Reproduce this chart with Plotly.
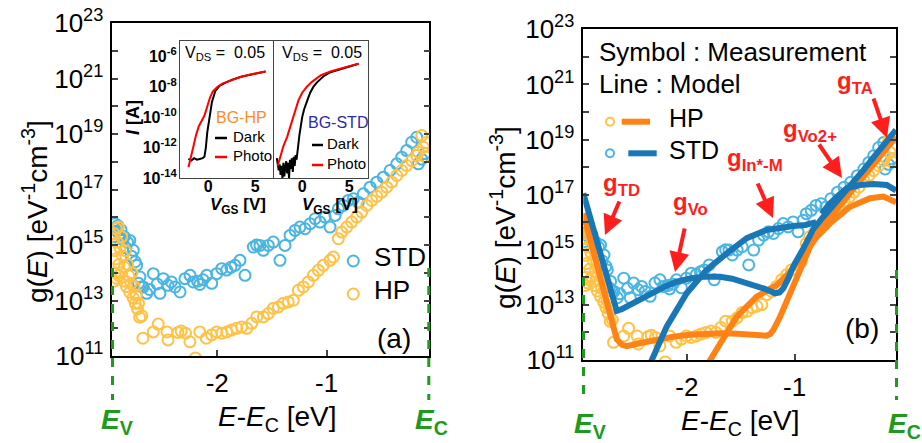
import plotly.graph_objects as go

W, H = 922, 443
FONT = "Liberation Sans, Arial, sans-serif"

# ---------------- measured DOS (log10 of g(E) [eV^-1 cm^-3]) ----------------
std_E = [-2.95, -2.94, -2.935, -2.92, -2.91, -2.895, -2.88, -2.865, -2.85, -2.835,
         -2.82, -2.80, -2.785, -2.768, -2.75, -2.737, -2.72, -2.707, -2.69, -2.676,
         -2.645, -2.62, -2.585, -2.55, -2.524, -2.493, -2.45, -2.42, -2.386, -2.34,
         -2.295, -2.249, -2.219, -2.18, -2.16, -2.13, -2.096, -2.05, -2.005, -1.959,
         -1.913, -1.875, -1.838, -1.792, -1.746, -1.67, -1.64, -1.609, -1.578, -1.533,
         -1.487, -1.426, -1.38, -1.334, -1.288, -1.243, -1.197, -1.151, -1.105, -1.06,
         -1.014, -0.968, -0.922, -0.892, -0.847, -0.801, -0.755, -0.71, -0.664, -0.602,
         -0.541, -0.48, -0.419, -0.358, -0.312, -0.267, -0.221, -0.175, -0.16, -0.13, -0.10]
std_logg = [15.3, 15.6, 15.77, 15.5, 15.7, 15.4, 15.55, 15.2, 15.3, 14.9,
            15.1, 15.17, 14.6, 14.81, 14.4, 14.27, 13.62, 13.85, 13.5, 13.49,
            13.26, 13.4, 13.97, 13.6, 13.26, 13.79, 13.55, 13.67, 13.49, 13.31,
            13.79, 13.91, 13.67, 13.7, 13.58, 13.75, 13.91, 13.62, 13.97, 14.15,
            14.1, 14.2, 14.27, 14.45, 13.91, 14.93, 15.0, 14.99, 14.81, 14.99,
            15.11, 14.45, 14.99, 15.35, 15.53, 15.65, 15.59, 15.77, 15.95, 15.83,
            16.01, 15.65, 16.07, 16.31, 16.43, 16.61, 16.67, 16.55, 16.85, 17.09,
            17.27, 17.45, 17.69, 17.93, 18.17, 18.41, 18.71, 18.89, 17.93, 18.1, 18.3]

hp_E = [-2.95, -2.945, -2.945, -2.94, -2.935, -2.93, -2.925, -2.92, -2.915, -2.905,
        -2.90, -2.90, -2.89, -2.88, -2.875, -2.865, -2.855, -2.85, -2.84, -2.83,
        -2.82, -2.81, -2.80, -2.79, -2.78, -2.77, -2.76, -2.75, -2.74, -2.73,
        -2.72, -2.71, -2.69, -2.68, -2.585, -2.54, -2.46, -2.45, -2.36, -2.33,
        -2.29, -2.25, -2.20, -2.16, -2.10, -2.051, -2.005, -1.959, -1.913, -1.868,
        -1.822, -1.776, -1.73, -1.685, -1.639, -1.578, -1.533, -1.487, -1.441, -1.396,
        -1.35, -1.304, -1.258, -1.213, -1.167, -1.121, -1.075, -1.03, -0.968, -0.938,
        -0.892, -0.861, -0.815, -0.77, -0.724, -0.678, -0.632, -0.587, -0.541, -0.495,
        -0.45, -0.404, -0.358, -0.312, -0.267, -0.221, -0.175, -0.16, -0.129, -0.114,
        -0.10, -0.09]
hp_logg = [15.2, 14.8, 13.7, 15.4, 14.0, 14.5, 15.6, 13.8, 15.1, 15.65,
           14.3, 13.9, 14.9, 14.0, 15.3, 14.6, 13.7, 14.2, 14.8, 13.5,
           14.3, 13.9, 13.3, 13.6, 14.0, 13.1, 13.5, 12.9, 13.2, 12.7,
           12.9, 12.4, 12.45, 11.64, 11.87, 12.15, 11.87, 11.58, 11.85, 11.9,
           11.82, 11.51, 10.93, 11.87, 11.64, 11.76, 11.87, 11.82, 11.87, 11.94,
           12.0, 12.05, 12.0, 12.18, 12.41, 12.41, 12.53, 12.72, 12.77, 12.9,
           12.95, 13.01, 13.37, 13.49, 13.67, 13.91, 14.09, 14.27, 14.45, 14.57,
           15.23, 15.47, 15.65, 15.83, 16.01, 16.19, 16.43, 16.61, 16.76, 16.91,
           17.09, 17.27, 17.51, 17.69, 17.87, 18.05, 18.23, 18.35, 18.95, 18.53,
           18.2, 18.7]

# ---------------- model lines, panel (b) ----------------
hp_tot_E = [-2.96, -2.80, -2.65, -2.60, -2.557, -2.45, -2.31, -2.15, -2.0, -1.85,
            -1.692, -1.53, -1.383, -1.30, -1.259, -1.225, -1.197, -1.135, -1.042, -0.95,
            -0.857, -0.764, -0.64, -0.517, -0.393, -0.27, -0.15, -0.06]
hp_tot_logg = [16.32, 13.95, 11.75, 11.55, 11.5, 11.6, 11.73, 11.83, 11.91, 11.95,
               11.97, 11.95, 11.91, 11.88, 11.88, 11.95, 12.09, 12.57, 13.42, 14.27,
               15.11, 15.72, 16.32, 16.93, 17.53, 18.14, 18.65, 19.1]
hp_vo2_E = [-1.83, -1.785, -1.662, -1.538, -1.352, -1.166, -1.042, -0.919, -0.795, -0.671,
            -0.486, -0.30, -0.177, -0.06]
hp_vo2_logg = [10.7, 11.0, 11.85, 12.57, 13.3, 13.72, 14.2, 14.87, 15.47, 15.96,
               16.56, 16.87, 16.93, 16.72]

std_tot_E = [-2.96, -2.80, -2.65, -2.60, -2.527, -2.41, -2.31, -2.20, -2.094, -1.97,
             -1.847, -1.75, -1.692, -1.58, -1.476, -1.38, -1.29, -1.23, -1.182, -1.14,
             -1.105, -1.06, -1.012, -0.919, -0.826, -0.733, -0.61, -0.486, -0.362, -0.238,
             -0.15, -0.06]
std_tot_logg = [17.05, 14.9, 12.78, 12.85, 13.0, 13.25, 13.48, 13.67, 13.84, 13.96,
                14.02, 14.05, 14.02, 13.95, 13.84, 13.72, 13.6, 13.5, 13.42, 13.45,
                13.6, 13.95, 14.4, 15.05, 15.75, 16.2, 16.74, 17.29, 17.89, 18.5,
                18.95, 19.35]
std_inm_E = [-2.37, -2.326, -2.187, -2.001, -1.816, -1.63, -1.444, -1.259, -1.10, -1.012,
             -0.90, -0.80]
std_inm_logg = [10.6, 11.0, 12.21, 13.42, 14.27, 14.87, 15.42, 15.72, 15.83, 15.86,
                15.9, 16.0]
std_vo2_E = [-0.75, -0.68, -0.60, -0.517, -0.393, -0.27, -0.146, -0.06]
std_vo2_logg = [16.3, 16.65, 16.95, 17.23, 17.35, 17.39, 17.35, 17.15]

# ---------------- inset transfer curves (log10 I [A]) ----------------
hp_dark_V = [-2.1, -1.8, -1.5, -1.2, -0.9, -0.6, -0.4, -0.25, -0.1, 0.05,
             0.2, 0.4, 0.75, 1.2, 1.8, 2.5, 3.5, 4.5, 5.5, 6.1]
hp_dark_logI = [-12.75, -12.85, -12.7, -12.8, -12.75, -12.7, -12.6, -12.0, -11.0, -10.3,
                -9.75, -9.0, -8.3, -7.95, -7.75, -7.55, -7.35, -7.2, -7.05, -7.0]
hp_photo_V = [-2.1, -1.9, -1.6, -1.3, -1.0, -0.7, -0.4, -0.1, 0.2, 0.5,
              1.0, 1.5, 2.5, 3.5, 4.5, 5.5, 6.1]
hp_photo_logI = [-13.3, -12.7, -12.0, -11.2, -10.6, -10.25, -9.9, -9.3, -8.7, -8.3,
                 -8.0, -7.8, -7.55, -7.35, -7.2, -7.05, -7.0]
std_dark_V = [-2.7, -2.6, -2.5, -2.4, -2.3, -2.2, -2.1, -2.0, -1.9, -1.8,
              -1.7, -1.6, -1.5, -1.4, -1.3, -1.2, -1.1, -1.0, -0.9, -0.8,
              -0.7, -0.6, -0.5, -0.4, -0.3, -0.2, -0.1, 0.0, 0.2, 0.4,
              0.6, 0.85, 1.2, 1.6, 2.3, 3.0, 4.0, 5.0, 6.0]
std_dark_logI = [-12.7, -13.0, -13.5, -13.1, -13.8, -13.2, -14.0, -13.0, -13.9, -13.3,
                 -12.9, -13.7, -13.0, -14.0, -12.8, -13.4, -12.7, -13.6, -12.6, -13.2,
                 -12.5, -12.8, -12.4, -11.75, -11.2, -10.7, -10.3, -10.0, -9.5, -9.1,
                 -8.8, -8.4, -8.0, -7.7, -7.3, -7.05, -6.85, -6.7, -6.5]
std_photo_V = [-2.6, -2.3, -2.0, -1.6, -1.2, -0.8, -0.4, 0.0, 0.5, 1.0,
               1.5, 2.0, 3.0, 4.0, 5.0, 6.0]
std_photo_logI = [-13.2, -12.5, -11.9, -11.3, -10.5, -9.6, -8.9, -8.4, -8.0, -7.7,
                  -7.45, -7.25, -7.0, -6.8, -6.65, -6.5]

# ---------------- tick labels ----------------
g_exps = list(range(11, 24))
g_ticktext = [f"10<sup>{k}</sup>" if k % 2 else "" for k in g_exps]
i_exps = [-6, -8, -10, -12, -14]
i_ticktext = [f"<b>10<sup>{k}</sup></b>" for k in i_exps]

# ---------------- colours ----------------
C_STD = "#4AB4E2"
C_HP = "#FFC246"
C_STD_LINE = "#1A77B6"
C_HP_LINE = "#FF8216"
C_RED = "#FF1E1E"
C_GREEN = "#1E9A1E"


def pw(v):
    return [10.0 ** x for x in v]


def fx(px):
    return px / W


def fy(py):
    return 1 - py / H


fig = go.Figure()

mk = lambda c, s=11: dict(symbol="circle-open", size=s, color=c, line=dict(width=2, color=c))

# panel (a)
fig.add_trace(go.Scatter(x=std_E, y=pw(std_logg), mode="markers", marker=mk(C_STD), xaxis="x", yaxis="y"))
fig.add_trace(go.Scatter(x=hp_E, y=pw(hp_logg), mode="markers", marker=mk(C_HP), xaxis="x", yaxis="y"))
# panel (b)
fig.add_trace(go.Scatter(x=std_E, y=pw(std_logg), mode="markers", marker=mk(C_STD), xaxis="x2", yaxis="y2"))
fig.add_trace(go.Scatter(x=hp_E, y=pw(hp_logg), mode="markers", marker=mk(C_HP), xaxis="x2", yaxis="y2"))
for xe, yl, c in [(hp_vo2_E, hp_vo2_logg, C_HP_LINE), (hp_tot_E, hp_tot_logg, C_HP_LINE),
                  (std_inm_E, std_inm_logg, C_STD_LINE), (std_vo2_E, std_vo2_logg, C_STD_LINE),
                  (std_tot_E, std_tot_logg, C_STD_LINE)]:
    fig.add_trace(go.Scatter(x=xe, y=pw(yl), mode="lines", line=dict(color=c, width=6),
                             xaxis="x2", yaxis="y2"))
# insets
fig.add_trace(go.Scatter(x=hp_dark_V, y=pw(hp_dark_logI), mode="lines", line=dict(color="black", width=2), xaxis="x3", yaxis="y3"))
fig.add_trace(go.Scatter(x=hp_photo_V, y=pw(hp_photo_logI), mode="lines", line=dict(color="red", width=2), xaxis="x3", yaxis="y3"))
fig.add_trace(go.Scatter(x=std_dark_V, y=pw(std_dark_logI), mode="lines", line=dict(color="black", width=2), xaxis="x4", yaxis="y4"))
fig.add_trace(go.Scatter(x=std_photo_V, y=pw(std_photo_logI), mode="lines", line=dict(color="red", width=2), xaxis="x4", yaxis="y4"))

tickfont = dict(family=FONT, size=26, color="black")
xmain = dict(range=[-2.96, -0.06], tickvals=[-2, -1], ticktext=["-2", "-1"], ticks="inside", ticklen=6,
             tickwidth=1.5, showline=True, linewidth=1.5, linecolor="black", mirror=True, showgrid=False,
             zeroline=False, tickfont=tickfont, ticklabelstandoff=3, automargin=False)
ymain = dict(type="log", range=[11, 23], tickvals=pw(g_exps), ticktext=g_ticktext, ticks="inside", ticklen=6,
             tickwidth=1.5, showline=True, linewidth=1.5, linecolor="black", mirror="ticks", showgrid=False,
             zeroline=False, tickfont=tickfont, ticklabelstandoff=2, automargin=False)
ifont = dict(family=FONT, size=16, color="black", weight="bold")
xin = dict(range=[-3, 7], tickvals=[0, 5], ticktext=["<b>0</b>", "<b>5</b>"], ticks="", showline=True, linewidth=1.2,
           linecolor="#444", mirror=True, showgrid=False, zeroline=False, tickfont=ifont, automargin=False,
           ticklabelstandoff=-6)
yin = dict(type="log", range=[-14, -5], tickvals=pw(i_exps), ticktext=i_ticktext, ticks="", showline=True,
           linewidth=1.2, linecolor="#444", mirror=True, showgrid=False, zeroline=False, tickfont=ifont,
           automargin=False, ticklabelstandoff=-1)

fig.update_layout(
    width=W, height=H, autosize=False, template="none", showlegend=False,
    margin=dict(l=0, r=0, t=0, b=0), paper_bgcolor="white", plot_bgcolor="white",
    xaxis=dict(xmain, domain=[fx(112.3), fx(429.3)], anchor="y"),
    yaxis=dict(ymain, domain=[fy(356), fy(23.3)], anchor="x"),
    xaxis2=dict(xmain, domain=[fx(583.3), fx(896)], anchor="y2"),
    yaxis2=dict(ymain, domain=[fy(360), fy(29.3)], anchor="x2"),
    xaxis3=dict(xin, domain=[fx(180), fx(274)], anchor="y3"),
    yaxis3=dict(yin, domain=[fy(178), fy(41)], anchor="x3"),
    xaxis4=dict(xin, domain=[fx(274), fx(368)], anchor="y4"),
    yaxis4=dict(yin, domain=[fy(178), fy(41)], anchor="x4", showticklabels=False),
)

ann = []


def text(x, y, t, size, color="black", angle=0, xanchor="center"):
    ann.append(dict(x=fx(x), y=fy(y), xref="paper", yref="paper", text=t, showarrow=False,
                    font=dict(family=FONT, size=size, color=color), textangle=angle,
                    xanchor=xanchor, yanchor="middle"))


# axis titles
text(35, 212, "g(<i>E</i>) [eV<sup>-1</sup>cm<sup>-3</sup>]", 28, angle=-90)
text(503, 217, "g(<i>E</i>) [eV<sup>-1</sup>cm<sup>-3</sup>]", 28, angle=-90)
text(277, 418, "<i>E</i>-<i>E</i><sub>C</sub> [eV]", 28)
text(740, 422, "<i>E</i>-<i>E</i><sub>C</sub> [eV]", 28)
for x, y, s in [(117, 421, "V"), (431, 421, "C"), (590, 425, "V"), (904, 425, "C")]:
    text(x, y, f"<b><i>E</i><sub>{s}</sub></b>", 28, C_GREEN)
text(394, 338, "(a)", 28)
text(862, 328, "(b)", 28)
# legend (a)
text(372, 257, "STD", 26, xanchor="left")
text(372, 290, "HP", 26, xanchor="left")
# panel (b) texts
text(597, 52, "Symbol : Measurement", 26, xanchor="left")
text(597, 84, "Line : Model", 26, xanchor="left")
text(667, 118, "HP", 25, xanchor="left")
text(667, 150, "STD", 25, xanchor="left")
# red labels
for x, y, t in [(621, 184, "TD"), (690, 203, "Vo"), (755, 159, "In*-M"), (810, 130, "Vo2+"), (855, 82, "TA")]:
    text(x, y, f"<b>g<sub>{t}</sub></b>", 24, C_RED)
# red arrows (tail -> head)
for tx, ty, hx, hy in [(620, 200, 605, 235), (685, 227, 675, 272), (757, 182, 773, 218),
                       (818, 143, 842, 178), (873, 97, 887, 138)]:
    ann.append(dict(x=fx(hx), y=fy(hy), xref="paper", yref="paper", ax=tx - hx, ay=ty - hy,
                    axref="pixel", ayref="pixel", text="", showarrow=True, arrowhead=2,
                    arrowsize=1, arrowwidth=4, arrowcolor=C_RED))
# inset texts
text(225, 53, "V<sub>DS</sub> =  0.05", 16)
text(322, 53, "V<sub>DS</sub> =  0.05", 16)
text(241, 117, "BG-HP", 16, "#FF8C28")
text(338, 123, "BG-STD", 16, "#2A2AAA")
text(231, 136, "Dark", 15, xanchor="left")
text(231, 155, "Photo", 15, xanchor="left")
text(325, 143, "Dark", 15, xanchor="left")
text(325, 163, "Photo", 15, xanchor="left")
text(238, 206, "<b><i>V</i><sub>GS</sub> [V]</b>", 17)
text(330, 206, "<b><i>V</i><sub>GS</sub> [V]</b>", 17)
text(133, 118, "<b><i>I</i> [A]</b>", 18, angle=-90)

shapes = []


def seg(x0, y0, x1, y1, color, width, dash="solid"):
    shapes.append(dict(type="line", xref="paper", yref="paper", x0=fx(x0), y0=fy(y0), x1=fx(x1), y1=fy(y1),
                       line=dict(color=color, width=width, dash=dash)))


def circ(x, y, r, color, width=2):
    shapes.append(dict(type="circle", xref="paper", yref="paper", xsizemode="pixel", ysizemode="pixel",
                       xanchor=fx(x), yanchor=fy(y), x0=-r, x1=r, y0=-r, y1=r,
                       line=dict(color=color, width=width)))


# green band-edge dashed lines
seg(112.5, 268, 112.5, 400, C_GREEN, 3, "dash")
seg(428.8, 268, 428.8, 400, C_GREEN, 3, "dash")
seg(583.5, 277, 583.5, 400, C_GREEN, 3, "dash")
seg(896.5, 270, 896.5, 400, C_GREEN, 3, "dash")
# legend (a)
circ(353.3, 261, 5.5, C_STD)
circ(353.3, 294, 5.5, C_HP)
# legend (b)
circ(610, 121.7, 4, C_HP)
seg(621.7, 121.7, 650, 121.7, C_HP_LINE, 6)
circ(610, 153.3, 4, C_STD)
seg(628.3, 153.3, 656.7, 153.3, C_STD_LINE, 6)
# inset legend dashes
seg(215, 138, 227, 138, "black", 2.5)
seg(215, 157, 227, 157, "red", 2.5)
seg(312, 145, 323, 145, "black", 2.5)
seg(312, 165, 323, 165, "red", 2.5)

fig.update_layout(annotations=ann, shapes=shapes)
fig.write_html("out.html")
